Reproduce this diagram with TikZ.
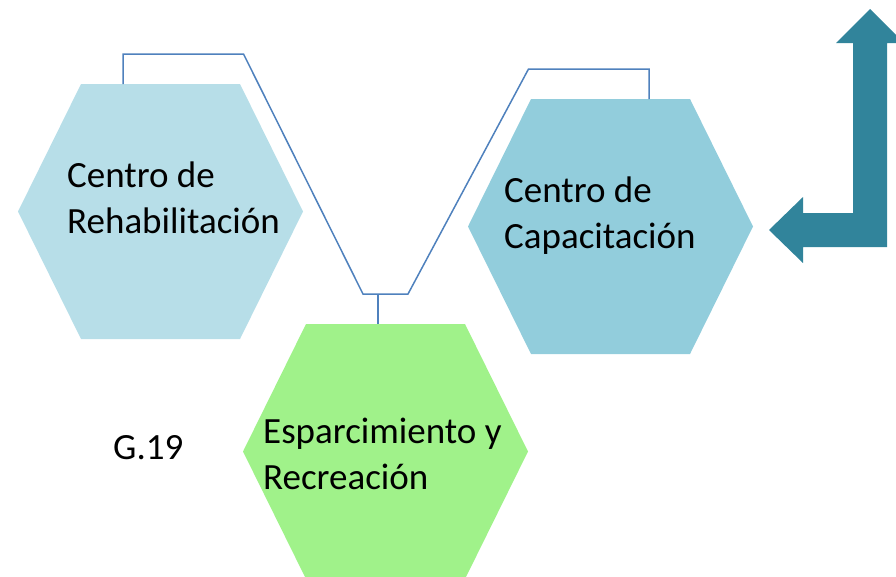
\documentclass[tikz,border=0pt]{standalone}
\usepackage{fontspec}
\setmainfont{Carlito}
\definecolor{hexA}{HTML}{B7DEE8}
\definecolor{hexB}{HTML}{92CDDC}
\definecolor{hexC}{HTML}{A0F28A}
\definecolor{arrowc}{HTML}{31849B}
\definecolor{linec}{HTML}{4F81BD}
\tikzset{
  conn/.style={draw=linec, line width=1.5pt},
  lbl/.style={inner sep=0pt, align=left, anchor=base west, font=\fontsize{37}{45.5}\selectfont},
}
\newcommand{\hexpath}[5]{% x0 x1 y0 y1 color
  \fill[#5] (#1+63,#3) -- (#2-63,#3) -- (#2,{(#3+#4)/2}) -- (#2-63,#4) -- (#1+63,#4) -- (#1,{(#3+#4)/2}) -- cycle;}
\begin{document}
\begin{tikzpicture}[x=1pt,y=-1pt]
\useasboundingbox (0,0) rectangle (896,576);
\clip (0,0) rectangle (896,576);
% hexagons
\hexpath{18}{303}{84}{339}{hexA}
\hexpath{468}{753}{99}{354}{hexB}
\hexpath{243}{528}{324}{579}{hexC}
% anchor coordinates
\coordinate (rehabtop) at (123,84);
\coordinate (captop) at (649,99);
\coordinate (esptop) at (378,324);
\coordinate (c1) at (123,54);
\coordinate (c2) at (243.5,54);
\coordinate (c3) at (363,294);
\coordinate (c4) at (378,294);
\coordinate (c5) at (408,294);
\coordinate (c6) at (528.5,69);
\coordinate (c7) at (649,69);
% connector
\draw[conn] (rehabtop) -- (c1) -- (c2) -- (c3) -- (c5) -- (c6) -- (c7) -- (captop);
\draw[conn] (c4) -- (esptop);
% bent arrow
\fill[arrowc] (870,9) -- (904,43) -- (887,43) -- (887,247) -- (803,247) -- (803,263) -- (769,230) -- (803,197) -- (803,213) -- (853,213) -- (853,43) -- (836,43) -- cycle;
% labels
\node[lbl] (rehab) at (67,233.3) {Centro de\\Rehabilitación};
\node[lbl] (cap) at (504,248) {Centro de\\Capacitación};
\node[lbl] (esp) at (263,489) {Esparcimiento y\\Recreación};
\node[lbl] (g19) at (113,459) {G.19};
\end{tikzpicture}
\end{document}
